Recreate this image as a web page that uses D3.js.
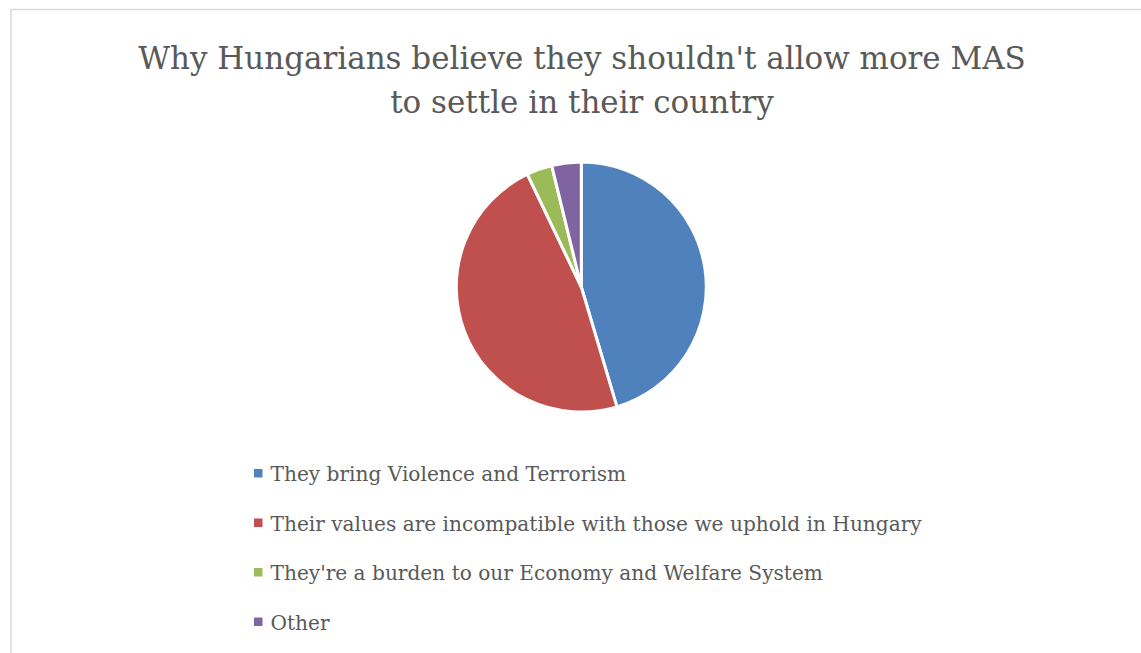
<!DOCTYPE html>
<html><head><meta charset="utf-8">
<script src="https://cdn.jsdelivr.net/npm/d3@7"></script>
<style>html,body{margin:0;padding:0;background:#fff;}svg{display:block;}</style>
</head><body>
<svg id="chart" width="1141" height="653"></svg>
<script>
const titleLines = ["Why Hungarians believe they shouldn't allow more MAS", "to settle in their country"];
const categories = [
  "They bring Violence and Terrorism",
  "Their values are incompatible with those we uphold in Hungary",
  "They're a burden to our Economy and Welfare System",
  "Other"
];
const values = [45.4, 47.5, 3.3, 3.8];
const colors = ["#4F81BD", "#C0504D", "#9BBB59", "#8064A2"];

const W = 1141, H = 653;
const svg = d3.select("#chart");
const FONT = "'DejaVu Serif', 'Liberation Serif', serif";

// frame
svg.append("line").attr("x1", 11).attr("y1", 9.5).attr("x2", W).attr("y2", 9.5)
  .attr("stroke", "#d9d9d9").attr("stroke-width", 1.5);
svg.append("line").attr("x1", 11).attr("y1", 9.5).attr("x2", 11).attr("y2", H)
  .attr("stroke", "#d9d9d9").attr("stroke-width", 1.5);

// title
const titleTargetW = 888;
const title = svg.append("g").attr("font-family", FONT).attr("fill", "#595959");
const t1 = title.append("text").attr("x", 582).attr("y", 68.5).attr("text-anchor", "middle")
  .attr("font-size", 30).text(titleLines[0]);
const w1 = t1.node().getComputedTextLength();
const titleSize = 30 * titleTargetW / w1;
t1.attr("font-size", titleSize);
title.append("text").attr("x", 582).attr("y", 112.5).attr("text-anchor", "middle")
  .attr("font-size", titleSize).text(titleLines[1]);

// pie
const cx = 581.3, cy = 287, r = 125;
const pie = d3.pie().sort(null).value(d => d)(values);
const arc = d3.arc().innerRadius(0).outerRadius(r);
const color = d3.scaleOrdinal().domain(categories).range(colors);
svg.append("g").attr("transform", `translate(${cx},${cy})`)
  .selectAll("path").data(pie).join("path")
  .attr("d", arc)
  .attr("fill", (d, i) => color(categories[i]))
  .attr("stroke", "#fff").attr("stroke-width", 3).attr("stroke-linejoin", "round");

// legend
const y = d3.scalePoint().domain(categories).range([481, 629.5]);
const leg = svg.append("g").attr("font-family", FONT);
const rows = leg.selectAll("g").data(categories).join("g")
  .attr("transform", d => `translate(0,${y(d)})`);
rows.append("rect").attr("x", 254).attr("y", -12).attr("width", 8.5).attr("height", 8.5)
  .attr("fill", d => color(d));
const lt = rows.append("text").attr("x", 270.5).attr("y", 0).attr("fill", "#595959")
  .attr("font-size", 20).text(d => d);
const lw = lt.nodes()[1].getComputedTextLength();
lt.attr("font-size", 20 * 652 / lw);
</script>
</body></html>
